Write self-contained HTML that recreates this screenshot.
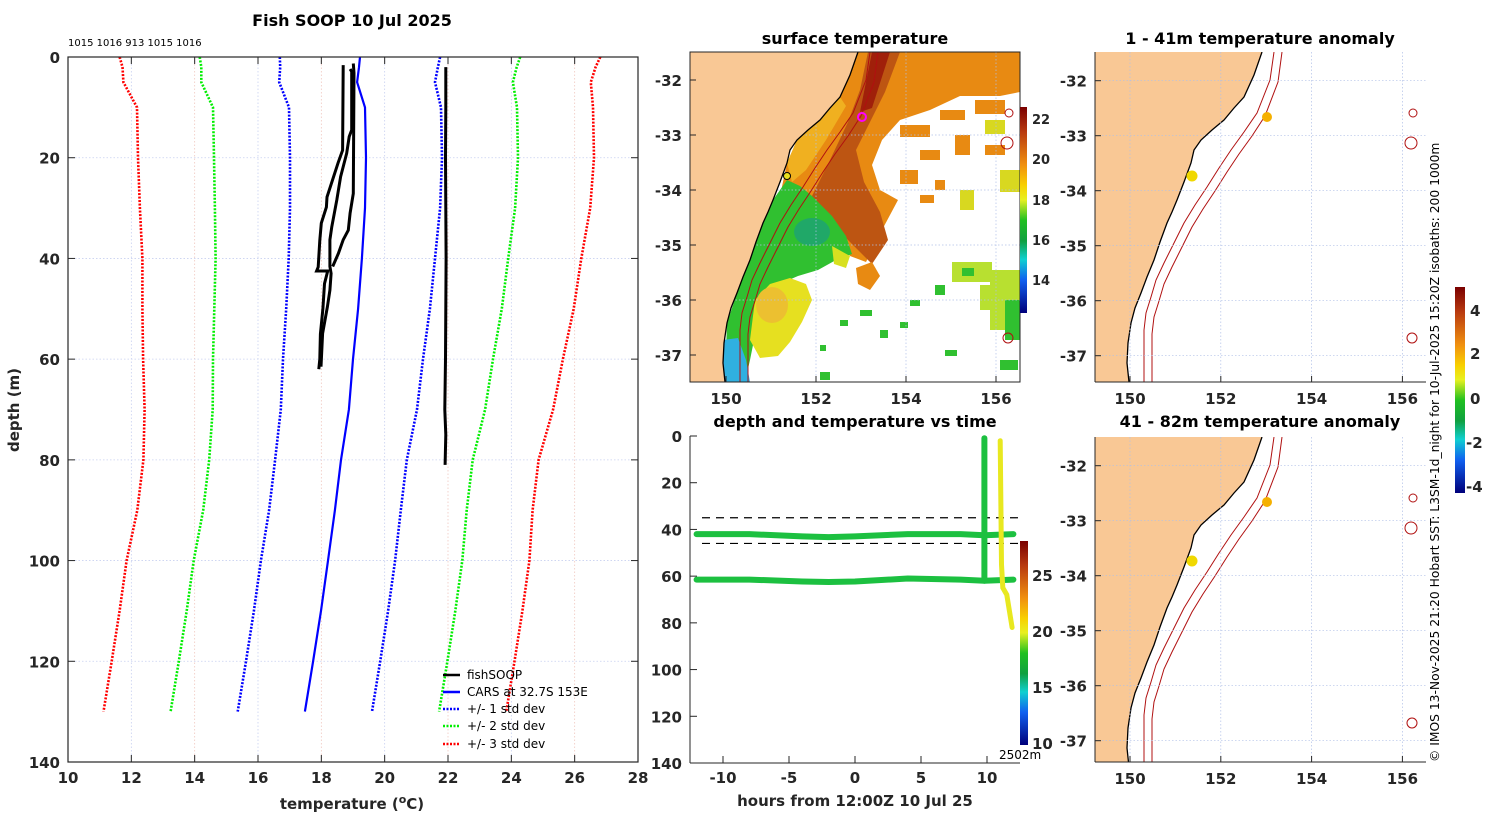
<!DOCTYPE html>
<html><head><meta charset="utf-8"><title>Fish SOOP 10 Jul 2025</title>
<style>
html,body{margin:0;padding:0;background:#fff;}
svg{display:block;font-family:"DejaVu Sans","Liberation Sans",sans-serif;}
.tk{font-size:15px;font-weight:bold;fill:#262626;}
.ttl{font-size:16px;font-weight:bold;fill:#000;}
.lg{font-size:12px;fill:#000;}
</style></head>
<body>
<svg id="fig" width="1500" height="820" viewBox="0 0 1500 820" xmlns="http://www.w3.org/2000/svg">
<defs>
  <linearGradient id="jet" x1="0" y1="0" x2="0" y2="1">
    <stop offset="0" stop-color="#7a0000"/><stop offset="0.12" stop-color="#b83a10"/>
    <stop offset="0.28" stop-color="#f09010"/><stop offset="0.38" stop-color="#f8d000"/>
    <stop offset="0.45" stop-color="#e8f020"/><stop offset="0.55" stop-color="#20c020"/>
    <stop offset="0.65" stop-color="#10a040"/><stop offset="0.74" stop-color="#10d0d0"/>
    <stop offset="0.84" stop-color="#1060f0"/><stop offset="1" stop-color="#00007a"/>
  </linearGradient>
  <clipPath id="mapclip"><rect x="690" y="52" width="330" height="330"/></clipPath>
  <clipPath id="rclip1"><rect x="1095" y="52" width="331" height="330"/></clipPath>
  <clipPath id="rclip2"><rect x="1095" y="437" width="331" height="325"/></clipPath>
</defs>

<!-- ===== Left profile plot ===== -->
<g>
  <text class="ttl" x="352" y="26" text-anchor="middle">Fish SOOP 10 Jul 2025</text>
  <text x="68" y="46" font-size="10" fill="#000">1015 1016 913 1015 1016</text>
  <g id="pgrid"></g>
  <g id="plines"></g>
  <rect x="68" y="57" width="570" height="705" fill="none" stroke="#262626" stroke-width="1.2"/>
  <g id="pticks"></g>
  <text class="tk" x="352" y="809" text-anchor="middle">temperature (<tspan font-size="11" dy="-6">o</tspan><tspan dy="6">C)</tspan></text>
  <text class="tk" transform="translate(19,410) rotate(-90)" text-anchor="middle">depth (m)</text>
  <g>
    <line x1="443" y1="675" x2="460" y2="675" stroke="#000" stroke-width="2.5"/>
    <text class="lg" x="467" y="679">fishSOOP</text>
    <line x1="443" y1="692" x2="460" y2="692" stroke="#0000ff" stroke-width="2.5"/>
    <text class="lg" x="467" y="696">CARS at 32.7S 153E</text>
    <line x1="443" y1="709" x2="460" y2="709" stroke="#0000ff" stroke-width="2.5" stroke-dasharray="2,1.5"/>
    <text class="lg" x="467" y="713">+/- 1 std dev</text>
    <line x1="443" y1="726" x2="460" y2="726" stroke="#00ee00" stroke-width="2.5" stroke-dasharray="2,1.5"/>
    <text class="lg" x="467" y="730">+/- 2 std dev</text>
    <line x1="443" y1="744" x2="460" y2="744" stroke="#ff0000" stroke-width="2.5" stroke-dasharray="2,1.5"/>
    <text class="lg" x="467" y="748">+/- 3 std dev</text>
  </g>
</g>

<!-- ===== Surface temperature map ===== -->
<g>
  <text class="ttl" x="855" y="44" text-anchor="middle">surface temperature</text>
  <g clip-path="url(#mapclip)">
    <rect x="690" y="52" width="330" height="330" fill="#fff"/>
    <polygon fill="#e88a12" points="858,52 1020,52 1020,92 1000,96 960,96 930,110 900,120 882,140 872,165 880,190 898,200 882,230 866,262 850,256 830,232 810,216 790,206 780,196 787,163 797,140 820,120 840,97"/>
    <g fill="#e88a12">
      <rect x="900" y="125" width="30" height="12"/><rect x="940" y="110" width="25" height="10"/><rect x="975" y="100" width="30" height="14"/>
      <rect x="920" y="150" width="20" height="10"/><rect x="955" y="135" width="15" height="20"/><rect x="900" y="170" width="18" height="14"/>
      <rect x="935" y="180" width="10" height="10"/><rect x="985" y="145" width="20" height="10"/><rect x="920" y="195" width="14" height="8"/>
    </g>
    <g fill="#d8d820"><rect x="985" y="120" width="20" height="14"/><rect x="960" y="190" width="14" height="20"/><rect x="1000" y="170" width="20" height="22"/></g>
    <polygon fill="#bd5512" points="868,52 900,52 885,92 870,122 856,150 864,182 880,212 888,240 872,264 852,244 826,218 812,196 830,160 848,122 860,90"/>
    <polygon fill="#a0200a" points="872,52 890,52 872,108 860,112"/>
    <polygon fill="#f0b020" points="797,140 820,120 840,97 846,106 826,140 806,170 792,182 787,163"/>
    <polygon fill="#30c030" points="773,200 787,180 800,186 812,196 832,216 846,236 852,254 836,260 818,270 798,276 784,282 770,300 756,330 750,360 745,382 725,382 727,323 737,293 750,260 763,223"/>
    <ellipse cx="812" cy="232" rx="18" ry="14" fill="#20a868"/>
    <polygon fill="#e6e020" points="755,300 770,284 790,278 806,284 812,300 802,322 790,342 778,356 760,358 750,340"/>
    <ellipse cx="772" cy="305" rx="16" ry="18" fill="#ecc030"/>
    <polygon fill="#d8e020" points="832,246 850,256 846,268 834,264"/>
    <polygon fill="#30b0e0" points="723,340 738,338 746,360 750,382 724,382"/>
    <polygon fill="#e88a12" points="856,268 872,262 880,276 870,290 858,284"/>
    <g fill="#b8e030"><rect x="952" y="262" width="40" height="20"/><rect x="980" y="285" width="25" height="25"/><rect x="990" y="270" width="30" height="60"/></g>
    <g fill="#30c030">
      <rect x="962" y="268" width="12" height="8"/><rect x="1005" y="300" width="15" height="40"/><rect x="935" y="285" width="10" height="10"/>
      <rect x="910" y="300" width="10" height="6"/><rect x="860" y="310" width="12" height="6"/><rect x="880" y="330" width="8" height="8"/>
      <rect x="840" y="320" width="8" height="6"/><rect x="1000" y="360" width="18" height="10"/><rect x="820" y="345" width="6" height="6"/>
      <rect x="945" y="350" width="12" height="6"/><rect x="900" y="322" width="8" height="6"/><rect x="820" y="372" width="10" height="8"/>
    </g>
    <g stroke="#b0c0e8" stroke-width="0.7" stroke-dasharray="1.5,2">
      <line x1="816" y1="52" x2="816" y2="382"/><line x1="906" y1="52" x2="906" y2="382"/><line x1="996" y1="52" x2="996" y2="382"/>
      <line x1="690" y1="135" x2="1020" y2="135"/><line x1="690" y1="190" x2="1020" y2="190"/><line x1="690" y1="245" x2="1020" y2="245"/><line x1="690" y1="300" x2="1020" y2="300"/>
    </g>
    <g id="mapbase0"></g>
    <circle cx="862" cy="117" r="4" fill="none" stroke="#ff00ff" stroke-width="2"/>
    <circle cx="787" cy="176" r="3.5" fill="#e8e020" stroke="#000" stroke-width="1"/>
  </g>
  <rect x="690" y="52" width="330" height="330" fill="none" stroke="#262626" stroke-width="1"/>
  <g id="mapticks0"></g>
  <rect x="1020" y="107" width="7" height="206" fill="url(#jet)"/>
  <g class="tk" font-size="13">
    <text x="1032" y="124" font-size="13">22</text><text x="1032" y="164" font-size="13">20</text>
    <text x="1032" y="205" font-size="13">18</text><text x="1032" y="245" font-size="13">16</text><text x="1032" y="285" font-size="13">14</text>
  </g>
</g>

<!-- ===== Depth vs time ===== -->
<g>
  <text class="ttl" x="855" y="427" text-anchor="middle">depth and temperature vs time</text>
  <g id="tlines"></g>
  <line x1="690" y1="436" x2="690" y2="763" stroke="#262626"/>
  <line x1="690" y1="763" x2="1020" y2="763" stroke="#262626"/>
  <g id="tticks"></g>
  <text class="tk" x="855" y="806" text-anchor="middle">hours from 12:00Z 10 Jul 25</text>
  <rect x="1020" y="541" width="8" height="204" fill="url(#jet)"/>
  <g>
    <text class="tk" x="1032" y="581" font-size="13">25</text><text class="tk" x="1032" y="637" font-size="13">20</text>
    <text class="tk" x="1032" y="693" font-size="13">15</text><text class="tk" x="1032" y="749" font-size="13">10</text>
    <text x="999" y="759" font-size="12" fill="#000">2502m</text>
  </g>
</g>

<!-- ===== Anomaly maps ===== -->
<g>
  <text class="ttl" x="1260" y="44" text-anchor="middle">1 - 41m temperature anomaly</text>
  <g clip-path="url(#rclip1)"><g id="mapbase1"></g></g>
  <g id="mapticks1"></g>
</g>
<g>
  <text class="ttl" x="1260" y="427" text-anchor="middle">41 - 82m temperature anomaly</text>
  <g clip-path="url(#rclip2)"><g id="mapbase2"></g></g>
  <g id="mapticks2"></g>
</g>
<rect x="1455" y="287" width="10" height="206" fill="url(#jet)"/>
<g>
  <text class="tk" x="1470" y="316" font-size="12">4</text><text class="tk" x="1470" y="359" font-size="12">2</text>
  <text class="tk" x="1470" y="404" font-size="12">0</text><text class="tk" x="1466" y="448" font-size="12">-2</text>
  <text class="tk" x="1466" y="492" font-size="12">-4</text>
</g>
<text transform="translate(1439,762) rotate(-90)" font-size="12.3" fill="#000">© IMOS 13-Nov-2025 21:20 Hobart SST: L3SM-1d_night for 10-Jul-2025 15:20Z isobaths: 200  1000m</text>
</svg>

<script>
const NS="http://www.w3.org/2000/svg";
function mk(tag,attrs,parent){const e=document.createElementNS(NS,tag);for(const k in attrs)e.setAttribute(k,attrs[k]);parent.appendChild(e);return e;}

// ---- Profile data ----
const carsDepth=[0,2,5,10,20,30,40,50,60,70,80,90,100,110,120,130];
const carsMean=[19.22,19.19,19.13,19.38,19.41,19.38,19.28,19.16,19.0,18.87,18.62,18.43,18.21,17.99,17.74,17.48];
const carsStd=[2.53,2.49,2.46,2.40,2.40,2.37,2.31,2.27,2.21,2.15,2.08,2.08,2.12,2.12,2.12,2.12];
const soopTemp1=[18.69,18.67,18.53,18.18,18.16,18.0,17.95,17.9,17.85,18.2,18.1,18.05,17.97,17.95,17.92];
const soopDepth1=[1.6,18.5,21,27.8,29.8,33,36.4,41.7,42.5,42.5,45,50,55,60,62];
const soopTemp2=[18.91,18.96,18.96,18.88,18.80,18.61,18.49,18.33,18.27,18.27,18.31,18.27,18.19,18.04,17.99];
const soopDepth2=[2.4,2.9,14.5,15.8,19.1,23.8,28.4,33.7,36.3,41.6,43,46.3,49.6,54.9,61.5];
const soopTemp3=[19.01,19.03,19.01,18.91,18.85,18.69,18.54,18.36];
const soopDepth3=[1.3,3.2,27.1,31,34.4,36.3,39,41.6];
const soopTemp4=[21.93,21.93,21.92,21.94,21.92,21.90,21.93,21.91];
const soopDepth4=[2,10,20,40,60,70,75,81];

const tempTicks=[10,12,14,16,18,20,22,24,26,28];
const depthTicks=[0,20,40,60,80,100,120,140];

const PX=t=>68+(t-10)*570/18;
const PY=d=>57+d*705/140;

const pg=document.getElementById('pgrid');
tempTicks.forEach((t,i)=>{ if(t>10&&t<28){const l=mk('line',{x1:PX(t),y1:57,x2:PX(t),y2:762,stroke:i%2?'#c8d0f0':'#f0c8c0','stroke-width':0.8,'stroke-dasharray':'1.5,2'},pg);

}});
depthTicks.forEach(d=>{ if(d>0&&d<140){const l=mk('line',{x1:68,y1:PY(d),x2:638,y2:PY(d),stroke:'#c8d0f0','stroke-width':0.8,'stroke-dasharray':'1.5,2'},pg);

}});

const pl=document.getElementById('plines');
function poly(ts,ds,attrs,name){const pts=ts.map((t,i)=>PX(t).toFixed(1)+','+PY(ds[i]).toFixed(1)).join(' ');
 const p=mk('polyline',Object.assign({points:pts,fill:'none'},attrs),pl);
 
 }
const stdStyles=[[1,'#0000ff'],[2,'#00ee00'],[3,'#ff0000']];
stdStyles.forEach(([k,c])=>{
  poly(carsMean.map((m,i)=>m-k*carsStd[i]),carsDepth,{stroke:c,'stroke-width':2.6,'stroke-dasharray':'2,1.5'},'std-dev-'+k+'-lower');
  poly(carsMean.map((m,i)=>m+k*carsStd[i]),carsDepth,{stroke:c,'stroke-width':2.6,'stroke-dasharray':'2,1.5'},'std-dev-'+k+'-upper');
});
poly(carsMean,carsDepth,{stroke:'#0000ff','stroke-width':2.2},'cars-mean-profile');
poly(soopTemp1,soopDepth1,{stroke:'#000','stroke-width':3},'fishsoop-profile-1');
poly(soopTemp2,soopDepth2,{stroke:'#000','stroke-width':3},'fishsoop-profile-2');
poly(soopTemp3,soopDepth3,{stroke:'#000','stroke-width':3},'fishsoop-profile-3');
poly(soopTemp4,soopDepth4,{stroke:'#000','stroke-width':3},'fishsoop-profile-4');

const pt=document.getElementById('pticks');
tempTicks.forEach(t=>{const x=PX(t);
 mk('line',{x1:x,y1:762,x2:x,y2:755,stroke:'#262626'},pt);mk('line',{x1:x,y1:57,x2:x,y2:64,stroke:'#262626'},pt);
 const tx=mk('text',{x:x,y:783,'text-anchor':'middle',class:'tk'},pt);tx.textContent=t;
 
 });
depthTicks.forEach(d=>{const y=PY(d);
 mk('line',{x1:68,y1:y,x2:75,y2:y,stroke:'#262626'},pt);mk('line',{x1:638,y1:y,x2:631,y2:y,stroke:'#262626'},pt);
 const tx=mk('text',{x:60,y:y+6,'text-anchor':'end',class:'tk'},pt);tx.textContent=d;
 
 });

// ---- Depth vs time data ----
const trackHours1=[-12,-8,-4,-2,0,4,8,9.8,12];
const trackDepth1=[42,42,43,43.3,43,42,42,42.5,42];
const trackHours2=[-12,-8,-4,-2,0,4,8,9.8,12];
const trackDepth2=[61.5,61.5,62.3,62.5,62.3,61,61.5,62,61.5];
const castHours=[9.8,9.8,9.8];
const castDepth=[1,30,62];
const yellowHours=[11.0,11.05,11.1,11.2,11.5,11.9];
const yellowDepth=[2,30,55,65,68,82];
const timeTicks=[-10,-5,0,5,10];
const tDepthTicks=[0,20,40,60,80,100,120,140];
const layerBounds=[35,46];
const HX=h=>855+h*13.2;
const HY=d=>436+d*327/140;
const tl=document.getElementById('tlines');
layerBounds.forEach(d=>{const l=mk('line',{x1:702,y1:HY(d),x2:1020,y2:HY(d),stroke:'#000','stroke-width':1.2,'stroke-dasharray':'8,6'},tl);
 
 });
function tpoly(hs,ds,col,w,name){const p=mk('polyline',{points:hs.map((h,i)=>HX(h).toFixed(1)+','+HY(ds[i]).toFixed(1)).join(' '),fill:'none',stroke:col,'stroke-width':w,'stroke-linecap':'round','stroke-linejoin':'round'},tl);
 
 }
tpoly(trackHours1,trackDepth1,'#1cc040',6,'upper-sensor-track');
tpoly(trackHours2,trackDepth2,'#1cc040',6,'lower-sensor-track');
tpoly(castHours,castDepth,'#1cc040',6,'cast-track');
tpoly(yellowHours,yellowDepth,'#e8e820',5,'deep-cast-track');
const tt=document.getElementById('tticks');
timeTicks.forEach(h=>{const x=HX(h);mk('line',{x1:x,y1:763,x2:x,y2:756,stroke:'#262626'},tt);
 const tx=mk('text',{x:x,y:783,'text-anchor':'middle',class:'tk'},tt);tx.textContent=h;
 
 });
tDepthTicks.forEach(d=>{const y=HY(d);mk('line',{x1:690,y1:y,x2:697,y2:y,stroke:'#262626'},tt);
 const tx=mk('text',{x:682,y:y+6,'text-anchor':'end',class:'tk'},tt);tx.textContent=d;
 
 });

// ---- Map bases (coast, isobaths) in middle-map pixel frame ----
const coast="858,52 850,75 840,97 830,108 820,120 808,130 797,140 790,150 787,163 780,182 773,200 768,212 763,223 756,242 750,260 743,277 737,293 731,308 727,323 724,343 723,363 725,382";
const iso1="870,52 866,80 853,113 840,132 827,150 815,168 803,187 791,205 780,223 770,243 760,263 752,280 747,297 742,313 740,330 740,382";
const iso2="878,52 874,82 861,116 848,136 835,154 823,172 811,191 799,209 788,227 778,247 768,267 760,284 755,301 750,317 748,334 748,382";
function buildBase(g,dx,dy){
  const gr=mk('g',{transform:`translate(${dx},${dy})`},g);
  mk('polygon',{points:"0,0 858,0 "+coast+" 725,440 0,440",fill:'#f9c895'},gr);
  mk('polyline',{points:coast,fill:'none',stroke:'#000','stroke-width':1.3},gr);
  mk('polyline',{points:iso1,fill:'none',stroke:'#b01010','stroke-width':1},gr);
  mk('polyline',{points:iso2,fill:'none',stroke:'#b01010','stroke-width':1},gr);
  [[1009,113,4],[1007,143,6],[1008,338,5]].forEach(([x,y,r])=>mk('circle',{cx:x,cy:y,r:r,fill:'none',stroke:'#b01010','stroke-width':1},gr));
  return gr;
}
buildBase(document.getElementById('mapbase0'),0,0);
const lonTicks=[150,152,154,156];
const latTicks=[-32,-33,-34,-35,-36,-37];
function mapTicks(id,x0,yTop,yBot,xRight,lonX,latY,lines){
  const g=document.getElementById(id);
  lonTicks.forEach(l=>{const x=lonX(l);
    if(lines){const gl=mk('line',{x1:x,y1:yTop,x2:x,y2:yBot,stroke:'#b0c0e8','stroke-width':0.7,'stroke-dasharray':'1.5,2'},g);}
    mk('line',{x1:x,y1:yBot,x2:x,y2:yBot-6,stroke:'#262626'},g);
    const t=mk('text',{x:x,y:yBot+22,'text-anchor':'middle',class:'tk'},g);t.textContent=l;
    
    });
  latTicks.forEach(l=>{const y=latY(l);
    if(lines){const gl=mk('line',{x1:x0,y1:y,x2:xRight,y2:y,stroke:'#b0c0e8','stroke-width':0.7,'stroke-dasharray':'1.5,2'},g);}
    mk('line',{x1:x0,y1:y,x2:x0+6,y2:y,stroke:'#262626'},g);
    const t=mk('text',{x:x0-8,y:y+6,'text-anchor':'end',class:'tk'},g);t.textContent=l;
    
    });
}
mapTicks('mapticks0',690,52,382,1020,l=>726+(l-150)*45,l=>80+(-32-l)*55,false);

[['mapbase1','mapticks1',0,52,382],['mapbase2','mapticks2',385,437,762]].forEach(([b,t,dy,yt,yb])=>{
  const g=document.getElementById(b);
  mk('rect',{x:1095,y:yt,width:331,height:yb-yt,fill:'#fff'},g);
  buildBase(g,404,dy);
  const d1=mk('circle',{cx:1267,cy:117+dy,r:5,fill:'#f5b000'},g);
  
  
  const d2=mk('circle',{cx:1192,cy:176+dy,r:5.5,fill:'#f0d800'},g);
  
  
  const tg=document.getElementById(t);
  mk('line',{x1:1095,y1:yt,x2:1095,y2:yb,stroke:'#262626'},tg);
  mk('line',{x1:1095,y1:yb,x2:1426,y2:yb,stroke:'#262626'},tg);
  mapTicks(t,1095,yt,yb,1426,l=>1130+(l-150)*45.4,l=>80.7+dy+(-32-l)*55,true);
});
</script>
</body></html>
